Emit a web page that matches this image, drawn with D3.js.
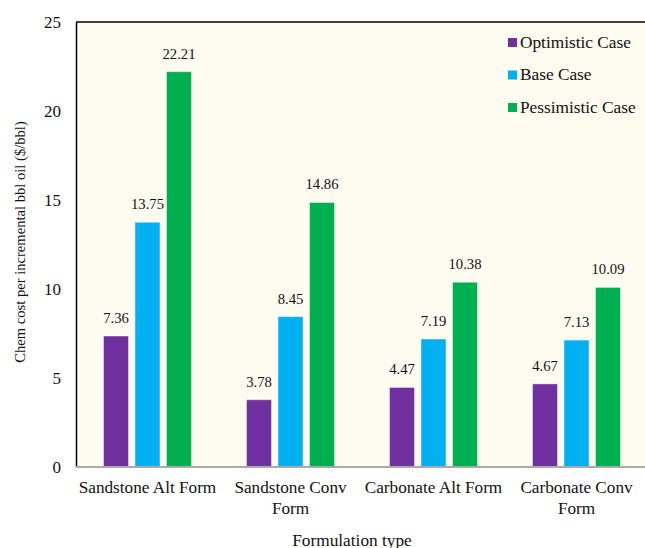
<!DOCTYPE html>
<html>
<head>
<meta charset="utf-8">
<script src="https://cdn.jsdelivr.net/npm/d3@7"></script>
<style>
  html, body { margin: 0; padding: 0; background: #fff; }
  svg { display: block; font-family: "Liberation Serif", "Times New Roman", serif; }
</style>
</head>
<body>
<svg id="chart" width="645" height="548"></svg>
<script>
const categories = [["Sandstone Alt Form"], ["Sandstone Conv", "Form"], ["Carbonate Alt Form"], ["Carbonate Conv", "Form"]];
const seriesNames = ["Optimistic Case", "Base Case", "Pessimistic Case"];
const optimistic = [7.36, 3.78, 4.47, 4.67];
const base = [13.75, 8.45, 7.19, 7.13];
const pessimistic = [22.21, 14.86, 10.38, 10.09];
const yTicks = [0, 5, 10, 15, 20, 25];
const colors = ["#7030A0", "#00B0F0", "#00B050"];

const series = [optimistic, base, pessimistic];
const svg = d3.select("#chart");
const plotLeft = 76, plotRight = 648, plotTop = 22, plotBottom = 467;
const serif = "Liberation Serif";

const x = d3.scaleBand().domain(d3.range(categories.length)).range([plotLeft, plotRight]);
const y = d3.scaleLinear().domain([0, 25]).range([plotBottom, plotTop]);
const barW = 25, pitch = 31.5;

// plot area
svg.append("rect").attr("x", plotLeft).attr("y", plotTop)
  .attr("width", plotRight - plotLeft).attr("height", plotBottom - plotTop)
  .attr("fill", "#FEFCF0");
svg.append("line").attr("x1", plotLeft).attr("x2", plotRight).attr("y1", plotTop).attr("y2", plotTop)
  .attr("stroke", "#000").attr("stroke-width", 1.5);

// bars with value labels
series.forEach((vals, s) => {
  const g = svg.append("g");
  vals.forEach((v, i) => {
    const cx = x(i) + x.bandwidth() / 2 + (s - 1) * pitch;
    g.append("rect")
      .attr("x", cx - barW / 2).attr("y", y(v))
      .attr("width", barW).attr("height", y(0) - y(v))
      .attr("fill", colors[s]).attr("stroke", "#ffffff").attr("stroke-opacity", 0.45).attr("stroke-width", 1);
    g.append("text")
      .attr("x", cx).attr("y", y(v) - 13)
      .attr("text-anchor", "middle").attr("font-size", 14.7).attr("font-family", serif).attr("fill", "#111")
      .text(v.toFixed(2));
  });
});

// axes
const yAxis = d3.axisLeft(y).tickValues(yTicks).tickSize(0).tickPadding(15);
const ya = svg.append("g").attr("transform", `translate(${plotLeft},0)`).call(yAxis);
ya.select(".domain").attr("stroke", "#000").attr("stroke-width", 1.5);
ya.selectAll("text").attr("font-size", 17).attr("font-family", serif).attr("fill", "#111");

svg.append("line").attr("x1", plotLeft).attr("x2", plotRight).attr("y1", plotBottom).attr("y2", plotBottom)
  .attr("stroke", "#aaa").attr("stroke-width", 2);

const xl = svg.append("g");
categories.forEach((lines, i) => {
  const cx = x(i) + x.bandwidth() / 2;
  const t = xl.append("text")
    .attr("x", cx).attr("y", 493)
    .attr("text-anchor", "middle").attr("font-size", 17.2).attr("font-family", serif).attr("fill", "#111");
  lines.forEach((ln, k) => {
    t.append("tspan").attr("x", cx).attr("dy", k === 0 ? 0 : 21).text(ln);
  });
});

// titles
svg.append("text").attr("x", 352).attr("y", 546)
  .attr("text-anchor", "middle").attr("font-size", 17.3).attr("font-family", serif).attr("fill", "#111")
  .text("Formulation type");
svg.append("text")
  .attr("transform", `translate(25,242) rotate(-90)`)
  .attr("text-anchor", "middle").attr("font-size", 14.6).attr("font-family", serif).attr("fill", "#111")
  .text("Chem cost per incremental bbl oil ($/bbl)");

// legend
const legend = svg.append("g");
seriesNames.forEach((name, s) => {
  const ly = 42.5 + s * 32.5;
  legend.append("rect").attr("x", 508).attr("y", ly - 4.5).attr("width", 9).attr("height", 9)
    .attr("fill", colors[s]);
  legend.append("text").attr("x", 520).attr("y", ly + 5)
    .attr("font-size", 17.3).attr("font-family", serif).attr("fill", "#111").text(name);
});
</script>
</body>
</html>
